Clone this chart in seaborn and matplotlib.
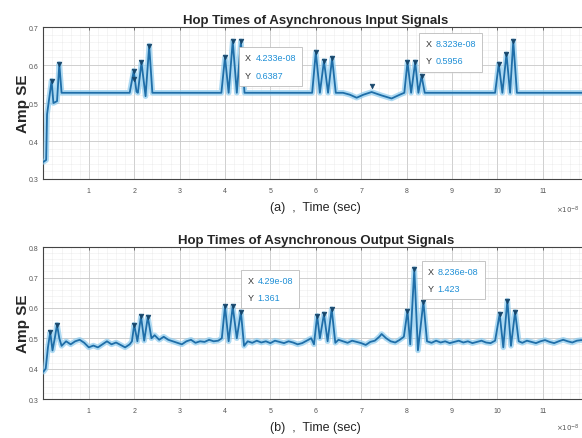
import matplotlib
matplotlib.use("Agg")
import matplotlib.pyplot as plt
from matplotlib.ticker import MultipleLocator
from matplotlib.offsetbox import TextArea, HPacker, VPacker, AnnotationBbox
import seaborn as sns
import pandas as pd

# ---------------- data (time in units of 1e-8 s) ----------------
top_t = [0.00, 0.06, 0.08, 0.18, 0.22, 0.30, 0.35, 0.40, 0.50,
         1.90, 1.99, 2.05, 2.08, 2.16, 2.25, 2.33, 2.40, 2.50,
         3.92, 4.00, 4.08, 4.17, 4.26, 4.35, 4.43,
         5.92, 6.00, 6.09, 6.18, 6.27, 6.36, 6.44,
         6.60, 6.75, 6.90, 7.05, 7.23, 7.45, 7.67, 7.85, 7.95,
         8.02, 8.10, 8.19, 8.26, 8.33, 8.40,
         9.95, 10.03, 10.11, 10.20, 10.28, 10.35, 10.43, 12.10]
top_y = [0.345, 0.350, 0.470, 0.559, 0.500, 0.505, 0.603, 0.527, 0.527,
         0.527, 0.585, 0.530, 0.527, 0.607, 0.518, 0.651, 0.527, 0.527,
         0.527, 0.621, 0.527, 0.663, 0.527, 0.663, 0.527,
         0.527, 0.634, 0.527, 0.611, 0.527, 0.618, 0.527,
         0.527, 0.522, 0.514, 0.522, 0.529, 0.520, 0.512, 0.522, 0.527,
         0.608, 0.527, 0.608, 0.527, 0.571, 0.527,
         0.527, 0.603, 0.527, 0.629, 0.527, 0.663, 0.527, 0.527]

top_peak_t = [0.18, 0.35, 1.99, 1.99, 2.16, 2.33, 4.00, 4.17, 4.35, 6.00, 6.18, 6.36,
              7.23, 8.02, 8.19, 8.33, 10.03, 10.20, 10.35]
top_peak_y = [0.559, 0.603, 0.585, 0.562, 0.607, 0.651, 0.621, 0.663, 0.663, 0.634, 0.611, 0.618,
              0.545, 0.608, 0.608, 0.571, 0.603, 0.629, 0.663]

bot_t = [0.00, 0.05, 0.10, 0.15, 0.20, 0.25, 0.30, 0.35, 0.40, 0.50, 0.60, 0.70, 0.80, 0.90,
         1.00, 1.10, 1.20, 1.30, 1.40, 1.50, 1.60, 1.70, 1.80, 1.90, 1.95,
         2.00, 2.07, 2.15, 2.22, 2.30, 2.38, 2.45, 2.55, 2.65, 2.75, 2.85, 2.95,
         3.05, 3.15, 3.25, 3.35, 3.45, 3.55, 3.65, 3.75, 3.85, 3.93,
         4.00, 4.08, 4.17, 4.26, 4.35, 4.42, 4.50, 4.60, 4.70, 4.80, 4.90,
         5.00, 5.10, 5.20, 5.30, 5.40, 5.50, 5.60, 5.70, 5.80, 5.90, 5.96,
         6.03, 6.09, 6.18, 6.26, 6.35, 6.43, 6.50, 6.60, 6.70, 6.80, 6.90,
         7.00, 7.10, 7.20, 7.30, 7.40, 7.45, 7.55, 7.65, 7.75, 7.85, 7.94,
         8.02, 8.08, 8.17, 8.25, 8.37, 8.45, 8.55, 8.65, 8.75, 8.85, 8.95,
         9.05, 9.15, 9.25, 9.35, 9.45, 9.55, 9.65, 9.75, 9.85, 9.95,
         10.05, 10.13, 10.22, 10.30, 10.39, 10.47, 10.55, 10.65, 10.75, 10.85, 10.95,
         11.05, 11.15, 11.25, 11.35, 11.45, 11.55, 11.65, 11.75, 11.85, 11.95, 12.10]
bot_y = [0.390, 0.400, 0.470, 0.520, 0.460, 0.500, 0.545, 0.500, 0.475, 0.490, 0.480, 0.490, 0.495, 0.485,
         0.470, 0.476, 0.470, 0.480, 0.490, 0.480, 0.486, 0.478, 0.470, 0.480, 0.490,
         0.545, 0.490, 0.572, 0.492, 0.570, 0.500, 0.510, 0.495, 0.505, 0.495, 0.490, 0.485,
         0.480, 0.490, 0.495, 0.485, 0.490, 0.488, 0.495, 0.490, 0.492, 0.500,
         0.605, 0.490, 0.605, 0.500, 0.587, 0.475, 0.490, 0.485, 0.492, 0.486, 0.490,
         0.484, 0.492, 0.488, 0.484, 0.490, 0.486, 0.480, 0.484, 0.492, 0.500, 0.480,
         0.574, 0.500, 0.580, 0.490, 0.596, 0.485, 0.495, 0.490, 0.485, 0.492, 0.488,
         0.484, 0.478, 0.488, 0.492, 0.505, 0.514, 0.500, 0.490, 0.486, 0.495, 0.505,
         0.590, 0.480, 0.728, 0.460, 0.620, 0.490, 0.485, 0.492, 0.486, 0.490, 0.484,
         0.488, 0.492, 0.486, 0.490, 0.484, 0.488, 0.492, 0.486, 0.484, 0.492,
         0.580, 0.470, 0.624, 0.475, 0.587, 0.490, 0.485, 0.492, 0.488, 0.484, 0.490,
         0.494, 0.488, 0.484, 0.490, 0.495, 0.490, 0.486, 0.492, 0.494, 0.490, 0.490]

bot_peak_t = [0.15, 0.30, 2.00, 2.15, 2.30, 4.00, 4.17, 4.35, 6.03, 6.18, 6.35,
              8.02, 8.17, 8.37, 10.05, 10.22, 10.39]
bot_peak_y = [0.520, 0.545, 0.545, 0.572, 0.570, 0.605, 0.605, 0.587, 0.574, 0.580, 0.596,
              0.590, 0.728, 0.620, 0.580, 0.624, 0.587]

titles = ["Hop Times of Asynchronous Input Signals", "Hop Times of Asynchronous Output Signals"]
xlabels = ["(a)  ,  Time (sec)", "(b)  ,  Time (sec)"]
ylabel = "Amp SE"
tips_top = [(4.45, 0.596, "4.233e-08", "0.6387"), (8.42, 0.634, "8.323e-08", "0.5956")]
tips_bot = [(4.50, 0.662, "4.29e-08", "1.361"), (8.47, 0.692, "8.236e-08", "1.423")]

# ---------------- style ----------------
sns.set_style("white")
plt.rcParams['font.family'] = ['Liberation Sans', 'DejaVu Sans']
narrow = ['Liberation Sans Narrow', 'Liberation Sans', 'DejaVu Sans']

line_col = "#1f6ea8"
halo_col = "#8ccbee"
mark_col = "#17466b"

fig = plt.figure(figsize=(5.82, 4.39), dpi=100)
ax1 = fig.add_axes([0.0746, 0.590, 0.936, 0.346])
ax2 = fig.add_axes([0.0746, 0.0888, 0.936, 0.346])


def draw(ax, t, y, pt, py, ylim, yticks, title, xlabel, tips):
    df = pd.DataFrame({"t": t, "y": y})
    sns.lineplot(data=df, x="t", y="y", ax=ax, sort=False, estimator=None,
                 color=halo_col, linewidth=4.0, alpha=0.7, zorder=3)
    sns.lineplot(data=df, x="t", y="y", ax=ax, sort=False, estimator=None,
                 color=line_col, linewidth=1.3, zorder=4)
    dp = pd.DataFrame({"t": pt, "y": py})
    sns.scatterplot(data=dp, x="t", y="y", ax=ax, marker="v", s=11, color=mark_col,
                    edgecolor=mark_col, linewidth=0.5, zorder=5)
    ax.set_xlim(0, 12)
    ax.set_ylim(*ylim)
    ax.set_yticks(yticks)
    ax.set_xticks(range(1, 12))
    ax.xaxis.set_minor_locator(MultipleLocator(0.2))
    ax.yaxis.set_minor_locator(MultipleLocator(0.02))
    ax.grid(True, which="major", color="#c8c8c8", linewidth=0.6)
    ax.grid(True, which="minor", color="#dedede", linewidth=0.4, linestyle=(0, (1, 1)))
    ax.set_axisbelow(True)
    ax.tick_params(which="both", direction="in", top=True, right=True,
                   labelsize=5, labelcolor="#555555", length=2.5, width=0.6, color="#555555")
    ax.tick_params(which="minor", length=0)
    ax.tick_params(axis="x", pad=6)
    for s in ax.spines.values():
        s.set_color("#444444")
        s.set_linewidth(0.8)
    ax.set_title(title, fontsize=9.5, fontweight="bold", family=narrow, pad=3)
    ax.set_xlabel(xlabel, fontsize=9, family=narrow, labelpad=5)
    ax.set_ylabel(ylabel, fontsize=11, fontweight="bold", labelpad=-1)
    for (x0, y0, xv, yv) in tips:
        rows = []
        for lab, val in (("X ", xv), ("Y ", yv)):
            rows.append(HPacker(children=[TextArea(lab, textprops=dict(color="#333333", fontsize=6.5)),
                                          TextArea(val, textprops=dict(color="#1f8fd6", fontsize=6.5))],
                                pad=0, sep=1))
        box = VPacker(children=rows, pad=0, sep=6, align="left")
        ab = AnnotationBbox(box, (x0, y0), xycoords="data", box_alignment=(0, 0.5),
                            frameon=True, pad=0.45,
                            bboxprops=dict(edgecolor="#bbbbbb", facecolor="white", linewidth=0.6))
        ab.set_zorder(6)
        ax.add_artist(ab)


draw(ax1, top_t, top_y, top_peak_t, top_peak_y, (0.3, 0.7), [0.3, 0.4, 0.5, 0.6, 0.7],
     titles[0], xlabels[0], tips_top)
draw(ax2, bot_t, bot_y, bot_peak_t, bot_peak_y, (0.3, 0.8), [0.3, 0.4, 0.5, 0.6, 0.7, 0.8],
     titles[1], xlabels[1], tips_bot)

fig.text(580 / 582, 1 - 210 / 439, r"$\times10^{-8}$", fontsize=5, color="#555555",
         va="center", ha="right")
fig.text(580 / 582, 1 - 428 / 439, r"$\times10^{-8}$", fontsize=5, color="#555555",
         va="center", ha="right")

fig.savefig("out.png", dpi=100)
